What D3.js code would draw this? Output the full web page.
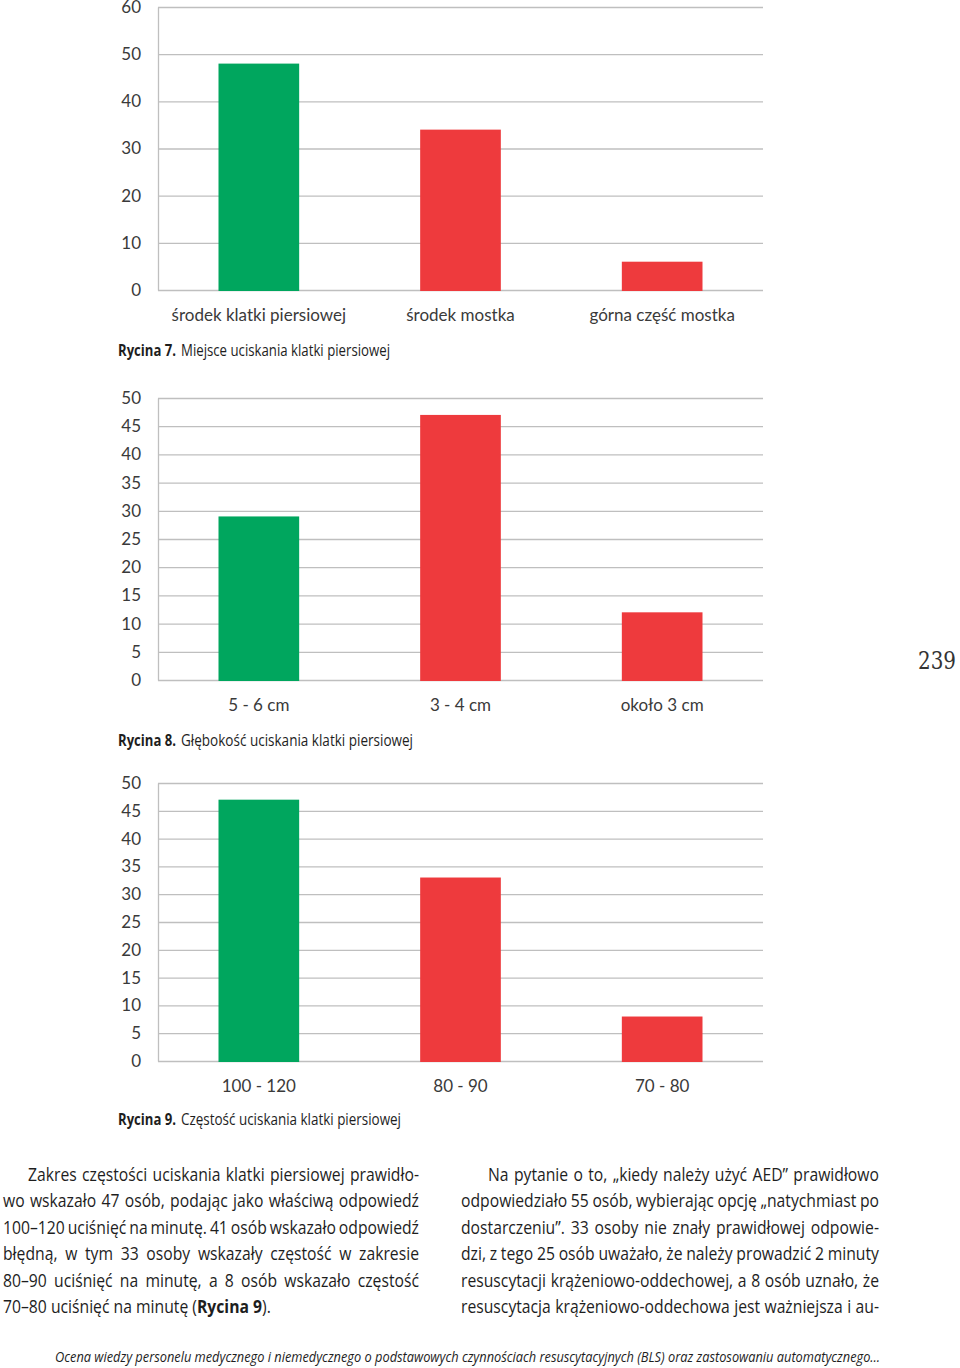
<!DOCTYPE html>
<html>
<head>
<meta charset="utf-8">
<script src="https://cdn.jsdelivr.net/npm/d3@7"></script>
<style>
  html, body { margin: 0; padding: 0; background: #fff; }
  svg { display: block; }
</style>
</head>
<body>
<svg id="page" width="960" height="1368"></svg>
<script>
// ---------- DATA ----------
const fig7Categories = ["środek klatki piersiowej", "środek mostka", "górna część mostka"];
const fig7Values = [48, 34, 6];
const fig7Ticks = [0, 10, 20, 30, 40, 50, 60];
const fig7CaptionBold = "Rycina 7.";
const fig7CaptionText = "Miejsce uciskania klatki piersiowej";

const fig8Categories = ["5 - 6 cm", "3 - 4 cm", "około 3 cm"];
const fig8Values = [29, 47, 12];
const fig8Ticks = [0, 5, 10, 15, 20, 25, 30, 35, 40, 45, 50];
const fig8CaptionBold = "Rycina 8.";
const fig8CaptionText = "Głębokość uciskania klatki piersiowej";

const fig9Categories = ["100 - 120", "80 - 90", "70 - 80"];
const fig9Values = [47, 33, 8];
const fig9Ticks = [0, 5, 10, 15, 20, 25, 30, 35, 40, 45, 50];
const fig9CaptionBold = "Rycina 9.";
const fig9CaptionText = "Częstość uciskania klatki piersiowej";

const leftColumnLines = [
  "Zakres częstości uciskania klatki piersiowej prawidło-",
  "wo wskazało 47 osób, podając jako właściwą odpowiedź",
  "100–120 uciśnięć na minutę. 41 osób wskazało odpowiedź",
  "błędną, w tym 33 osoby wskazały częstość w zakresie",
  "80–90 uciśnięć na minutę, a 8 osób wskazało częstość",
  "70–80 uciśnięć na minutę (**Rycina 9**)."
];
const rightColumnLines = [
  "Na pytanie o to, „kiedy należy użyć AED” prawidłowo",
  "odpowiedziało 55 osób, wybierając opcję „natychmiast po",
  "dostarczeniu”. 33 osoby nie znały prawidłowej odpowie-",
  "dzi, z tego 25 osób uważało, że należy prowadzić 2 minuty",
  "resuscytacji krążeniowo-oddechowej, a 8 osób uznało, że",
  "resuscytacja krążeniowo-oddechowa jest ważniejsza i au-"
];
const footerText = "Ocena wiedzy personelu medycznego i niemedycznego o podstawowych czynnościach resuscytacyjnych (BLS) oraz zastosowaniu automatycznego...";
const pageNumber = "239";

// ---------- STYLE ----------
const GREEN = "#00a65e";
const RED = "#ee3a3d";
const GRID = "#bfbfbf";
const AXIS_FONT = "Lato, 'Open Sans', sans-serif";
const BODY_FONT = "'Open Sans', 'Noto Sans', sans-serif";

const svg = d3.select("#page");
svg.append("rect").attr("width", 960).attr("height", 1368).attr("fill", "#fff");

function drawChart(cfg) {
  const g = svg.append("g");
  const y = d3.scaleLinear().domain([0, d3.max(cfg.ticks)]).range([cfg.y0, cfg.yTop]);
  const x = d3.scaleBand().domain(cfg.categories).range([158, 763])
    .paddingInner(0.6).paddingOuter(0.3);

  const yAxis = d3.axisLeft(y).tickValues(cfg.ticks).tickSize(-605).tickSizeOuter(0).tickPadding(17);
  const ya = g.append("g").attr("transform", "translate(158,0)").call(yAxis);
  ya.select(".domain").attr("stroke", GRID).attr("stroke-width", 1.3);
  ya.selectAll(".tick line").attr("stroke", GRID).attr("stroke-width", 1.3);
  ya.selectAll(".tick text").attr("fill", "#3a3a3a").style("font-family", AXIS_FONT).style("font-size", "17px");

  g.selectAll("rect.bar").data(cfg.values).enter().append("rect")
    .attr("class", "bar")
    .attr("x", (d, i) => x(cfg.categories[i]))
    .attr("width", x.bandwidth())
    .attr("y", d => y(d))
    .attr("height", d => y(0) - y(d) + 1)
    .attr("fill", (d, i) => i === 0 ? GREEN : RED);

  const xAxis = d3.axisBottom(x).tickSize(0).tickPadding(19);
  const xa = g.append("g").attr("transform", `translate(0,${cfg.y0})`).call(xAxis);
  xa.select(".domain").remove();
  xa.selectAll(".tick text").attr("fill", "#3a3a3a").style("font-family", AXIS_FONT).style("font-size", "17px");

  g.append("text").attr("x", 118).attr("y", cfg.captionY)
    .style("font-family", BODY_FONT).style("font-size", "15.5px").style("font-weight", "bold")
    .attr("fill", "#1e1e1e").attr("textLength", 58).attr("lengthAdjust", "spacingAndGlyphs")
    .text(cfg.captionBold);
  g.append("text").attr("x", 181).attr("y", cfg.captionY)
    .style("font-family", BODY_FONT).style("font-size", "15.5px")
    .attr("fill", "#1e1e1e").attr("textLength", cfg.captionW - 63).attr("lengthAdjust", "spacingAndGlyphs")
    .text(cfg.captionText);
}

drawChart({categories: fig7Categories, values: fig7Values, ticks: fig7Ticks,
  y0: 290, yTop: 7, captionY: 356, captionW: 272, captionBold: fig7CaptionBold, captionText: fig7CaptionText});
drawChart({categories: fig8Categories, values: fig8Values, ticks: fig8Ticks,
  y0: 680, yTop: 398, captionY: 746, captionW: 295, captionBold: fig8CaptionBold, captionText: fig8CaptionText});
drawChart({categories: fig9Categories, values: fig9Values, ticks: fig9Ticks,
  y0: 1061, yTop: 783, captionY: 1125, captionW: 283, captionBold: fig9CaptionBold, captionText: fig9CaptionText});

// ---------- BODY TEXT ----------
const BODY_SIZE = 18.5;
function makeText(parent, segs) {
  const t = parent.append("text").attr("x", 0).attr("y", 0)
    .style("font-family", BODY_FONT).style("font-size", BODY_SIZE + "px").attr("fill", "#1e1e1e")
    .attr("xml:space", "preserve");
  segs.forEach(s => t.append("tspan").style("font-weight", s.bold ? "bold" : "normal").text(s.text));
  return t;
}
// tokenise preserving bold across spaces
function tokens(line) {
  let bold = false;
  const words = [];
  line.split(" ").forEach(w => {
    const segs = [];
    const parts = w.split("**");
    parts.forEach((p, i) => {
      if (i > 0) bold = !bold;
      if (p.length) segs.push({text: p, bold: bold});
    });
    words.push(segs);
  });
  return words;
}
function joinSegs(words) {
  return words.flatMap((s, i) => i < words.length - 1 ? [...s, {text: " ", bold: false}] : s);
}

// horizontal condensing factor from the final (unjustified) line
const probe = makeText(svg, joinSegs(tokens(leftColumnLines[5])));
const natural = probe.node().getComputedTextLength();
probe.remove();
const K = 268 / natural;

function drawColumn(lines, xLeft, xRight, indent, yStart, lineH, lastJustified) {
  lines.forEach((line, li) => {
    const y = yStart + li * lineH;
    const x0 = xLeft + (li === 0 ? indent : 0);
    const justify = li < lines.length - 1 || lastJustified;
    const g = svg.append("g");
    const words = tokens(line);
    if (!justify) {
      const t = makeText(g, joinSegs(words));
      t.attr("transform", `translate(${x0},${y}) scale(${K},1)`);
      return;
    }
    const els = words.map(s => makeText(g, s));
    const widths = els.map(e => e.node().getComputedTextLength() * K);
    const total = d3.sum(widths);
    const gap = (xRight - x0 - total) / (words.length - 1);
    let cx = x0;
    els.forEach((e, i) => {
      e.attr("transform", `translate(${cx},${y}) scale(${K},1)`);
      cx += widths[i] + gap;
    });
  });
}
drawColumn(leftColumnLines, 3, 419, 25, 1181, 26.4, false);
drawColumn(rightColumnLines, 461, 879, 27, 1181, 26.4, true);

// ---------- FOOTER & PAGE NUMBER ----------
svg.append("text").attr("x", 55).attr("y", 1362)
  .style("font-family", BODY_FONT).style("font-style", "italic").style("font-size", "14px")
  .attr("fill", "#1e1e1e").attr("textLength", 825).attr("lengthAdjust", "spacingAndGlyphs")
  .text(footerText);

svg.append("text").attr("x", 918).attr("y", 669)
  .style("font-family", "'DejaVu Serif', 'Liberation Serif', serif").style("font-size", "24px")
  .attr("fill", "#333").attr("textLength", 38).attr("lengthAdjust", "spacingAndGlyphs")
  .text(pageNumber);
</script>
</body>
</html>
